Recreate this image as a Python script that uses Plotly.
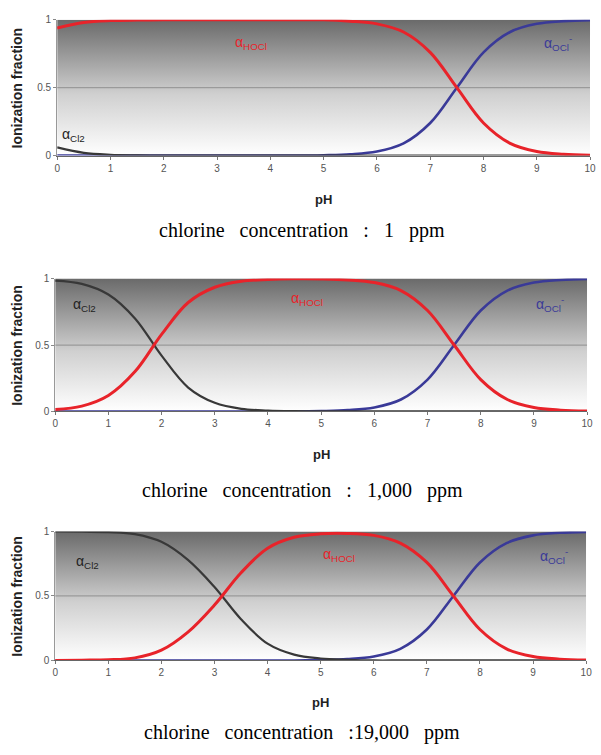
import plotly.graph_objects as go

# pH grid shared by all three panels
ph = [0, 0.5, 1, 1.5, 2, 2.5, 3, 3.5, 4, 4.5, 5, 5.5, 6, 6.5, 7, 7.5, 8, 8.5, 9, 9.5, 10]

# Ionization fractions, 1 ppm
cl2_1 = [0.06, 0.02, 0.006, 0.002, 0, 0, 0, 0, 0, 0, 0, 0, 0, 0, 0, 0, 0, 0, 0, 0, 0]
hocl_1 = [0.94, 0.98, 0.994, 0.998, 1, 1, 1, 1, 1, 1, 1, 0.99, 0.97, 0.91, 0.76, 0.50, 0.24, 0.09, 0.03, 0.01, 0.003]
ocl_1 = [0, 0, 0, 0, 0, 0, 0, 0, 0, 0, 0.003, 0.01, 0.03, 0.09, 0.24, 0.50, 0.76, 0.91, 0.97, 0.99, 0.997]

# Ionization fractions, 1,000 ppm
cl2_2 = [0.985, 0.96, 0.88, 0.70, 0.42, 0.18, 0.065, 0.02, 0.007, 0.002, 0, 0, 0, 0, 0, 0, 0, 0, 0, 0, 0]
hocl_2 = [0.015, 0.04, 0.12, 0.30, 0.58, 0.82, 0.935, 0.98, 0.993, 0.998, 0.997, 0.99, 0.97, 0.91, 0.76, 0.50, 0.24, 0.09, 0.03, 0.01, 0.003]
ocl_2 = [0, 0, 0, 0, 0, 0, 0, 0, 0, 0, 0.003, 0.01, 0.03, 0.09, 0.24, 0.50, 0.76, 0.91, 0.97, 0.99, 0.997]

# Ionization fractions, 19,000 ppm
cl2_3 = [1.0, 0.998, 0.995, 0.98, 0.92, 0.78, 0.57, 0.32, 0.13, 0.045, 0.015, 0.005, 0, 0, 0, 0, 0, 0, 0, 0, 0]
hocl_3 = [0, 0.002, 0.005, 0.02, 0.08, 0.22, 0.43, 0.68, 0.87, 0.955, 0.982, 0.985, 0.97, 0.91, 0.76, 0.50, 0.24, 0.09, 0.03, 0.01, 0.003]
ocl_3 = [0, 0, 0, 0, 0, 0, 0, 0, 0, 0, 0.003, 0.01, 0.03, 0.09, 0.24, 0.50, 0.76, 0.91, 0.97, 0.99, 0.997]

GAP = "\u00a0\u00a0 "
captions = ["chlorine" + GAP + "concentration" + GAP + ":" + GAP + "1" + GAP + "ppm",
            "chlorine" + GAP + "concentration" + GAP + ":" + GAP + "1,000" + GAP + "ppm",
            "chlorine" + GAP + "concentration" + GAP + ":19,000" + GAP + "ppm"]

x_ticks = [0, 1, 2, 3, 4, 5, 6, 7, 8, 9, 10]
y_ticks = [0, 0.5, 1]
y_tick_text = ["0", "0.5", "1"]

W, H = 601, 755

# panel geometry in pixels: (left, right, top, bottom)
panels = [(55, 596, 14, 152), (53, 593, 277, 412), (53, 592, 534, 665)]
# label anchors (pH, fraction) for each panel: Cl2, HOCl, OCl-
lab_cl2 = [(0.05, 0.15), (0.3, 0.80), (0.35, 0.76)]
lab_hocl = [(3.3, 0.83), (4.4, 0.85), (5.0, 0.82)]
lab_ocl = [(9.1, 0.83), (9.0, 0.81), (9.1, 0.81)]
ph_label_y = [197, 456, 708]
caption_y = [228, 492, 738]

RED = "#e8232a"
BLUE = "#3a3a98"
DARK = "#383838"

series = [(cl2_1, hocl_1, ocl_1), (cl2_2, hocl_2, ocl_2), (cl2_3, hocl_3, ocl_3)]

fig = go.Figure()
annotations = []

for i, ((l, r, t, b), (cl2, hocl, ocl)) in enumerate(zip(panels, series)):
    n = "" if i == 0 else str(i + 1)
    xa, ya = "x" + n, "y" + n
    # shaded plot background: dark grey at the top fading to white at the bottom
    fig.add_trace(go.Scatter(
        x=[0, 10, 10, 0, 0], y=[0, 0, 1, 1, 0], mode="none", fill="toself",
        fillgradient=dict(type="vertical",
                          colorscale=[[0, "#ffffff"], [0.45, "#d0d0d0"], [1, "#6a6a6a"]]),
        hoverinfo="skip", showlegend=False, xaxis=xa, yaxis=ya))
    # 0.5 reference line
    fig.add_trace(go.Scatter(x=[0, 10], y=[0.5, 0.5], mode="lines",
                             line=dict(color="#9a9a9a", width=1.2),
                             hoverinfo="skip", showlegend=False, xaxis=xa, yaxis=ya))
    fig.add_trace(go.Scatter(x=ph, y=ocl, mode="lines", line=dict(color=BLUE, width=2.6, shape="spline"),
                             showlegend=False, xaxis=xa, yaxis=ya))
    fig.add_trace(go.Scatter(x=ph, y=cl2, mode="lines", line=dict(color=DARK, width=2.2, shape="spline"),
                             showlegend=False, xaxis=xa, yaxis=ya))
    fig.add_trace(go.Scatter(x=ph, y=hocl, mode="lines", line=dict(color=RED, width=3, shape="spline"),
                             showlegend=False, xaxis=xa, yaxis=ya))

    ax = dict(domain=[l / W, r / W], range=[0, 10], tickvals=x_ticks, ticks="outside", ticklen=3,
              tickcolor="#777", showline=True, linecolor="#666", linewidth=1, mirror=False,
              showgrid=False, zeroline=False, anchor=ya,
              tickfont=dict(family="Liberation Sans, Arial", size=10, color="#555"))
    ay = dict(domain=[1 - b / H, 1 - t / H], range=[0, 1], tickvals=y_ticks, ticktext=y_tick_text,
              ticks="outside", ticklen=3, tickcolor="#888", showline=True, linecolor="#999",
              linewidth=1, showgrid=False, zeroline=False, anchor=xa,
              tickfont=dict(family="Liberation Sans, Arial", size=10, color="#555"))
    fig.layout["xaxis" + n] = ax
    fig.layout["yaxis" + n] = ay

    lf = dict(family="Liberation Sans, Arial", size=14)
    annotations += [
        dict(x=lab_cl2[i][0], y=lab_cl2[i][1], xref=xa, yref=ya, text="α<sub>Cl2</sub>",
             showarrow=False, xanchor="left", font=dict(color="#222", **lf)),
        dict(x=lab_hocl[i][0], y=lab_hocl[i][1], xref=xa, yref=ya, text="α<sub>HOCl</sub>",
             showarrow=False, xanchor="left", font=dict(color=RED, **lf)),
        dict(x=lab_ocl[i][0], y=lab_ocl[i][1], xref=xa, yref=ya, text="α<sub>OCl</sub><sup>-</sup>",
             showarrow=False, xanchor="left", font=dict(color=BLUE, **lf)),
        dict(x=14 / W, y=1 - (t + b) / 2 / H, xref="paper", yref="paper", text="<b>Ionization fraction</b>",
             textangle=-90, showarrow=False, xanchor="center", yanchor="middle",
             font=dict(family="Liberation Sans, Arial", size=14, color="#222")),
        dict(x=(l + r) / 2 / W, y=1 - ph_label_y[i] / H, xref="paper", yref="paper", text="<b>pH</b>",
             showarrow=False, xanchor="center", yanchor="middle",
             font=dict(family="Liberation Sans, Arial", size=13, color="#222")),
        dict(x=304 / W, y=1 - caption_y[i] / H, xref="paper", yref="paper", text=captions[i],
             showarrow=False, xanchor="center", yanchor="middle",
             font=dict(family="Liberation Serif, Times New Roman", size=20, color="#000")),
    ]

fig.update_layout(width=W, height=H, margin=dict(l=0, r=0, t=0, b=0),
                  paper_bgcolor="white", plot_bgcolor="white", annotations=annotations)

fig.write_html("out.html")
